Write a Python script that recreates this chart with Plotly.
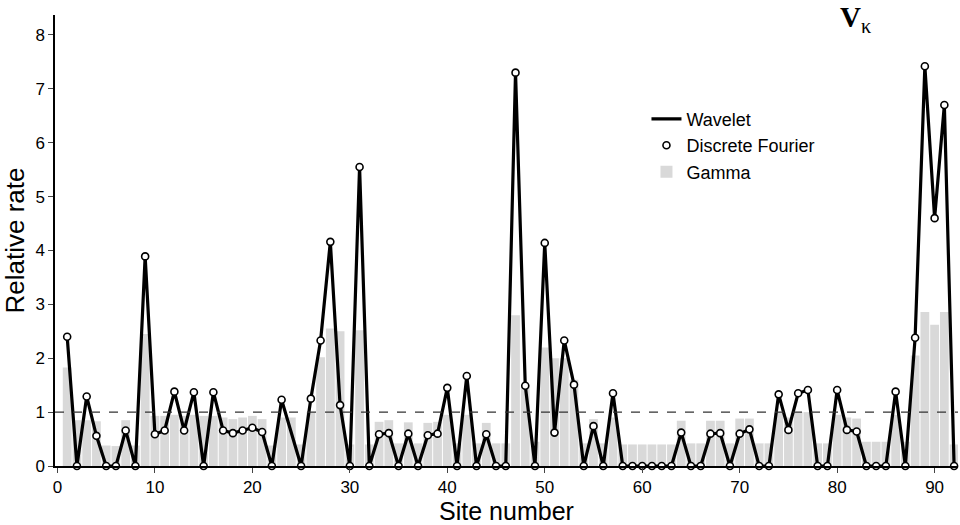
import plotly.graph_objects as go

# ---- data ----
sites = list(range(1, 24)) + list(range(25, 93))
wavelet_rate = [2.40, 0, 1.29, 0.56, 0, 0, 0.66, 0, 3.89, 0.59,
                0.66, 1.38, 0.66, 1.37, 0, 1.37, 0.66, 0.61, 0.66, 0.71,
                0.63, 0, 1.23,
                0, 1.25, 2.33, 4.16, 1.13, 0, 5.55, 0, 0.59, 0.61,
                0, 0.60, 0, 0.57, 0.60, 1.45, 0, 1.67, 0, 0.59,
                0, 0, 7.30, 1.49, 0, 4.14, 0.62, 2.33, 1.51, 0,
                0.74, 0, 1.35, 0, 0, 0, 0, 0, 0, 0.62,
                0, 0, 0.60, 0.61, 0, 0.60, 0.68, 0, 0, 1.33,
                0.67, 1.35, 1.41, 0, 0, 1.41, 0.67, 0.64, 0, 0,
                0, 1.38, 0, 2.38, 7.42, 4.60, 6.70, 0]
fourier_rate = [2.40, 0, 1.29, 0.56, 0, 0, 0.66, 0, 3.89, 0.59,
                0.66, 1.38, 0.66, 1.37, 0, 1.37, 0.66, 0.61, 0.66, 0.71,
                0.63, 0, 1.23,
                0, 1.25, 2.33, 4.16, 1.13, 0, 5.55, 0, 0.59, 0.61,
                0, 0.60, 0, 0.57, 0.60, 1.45, 0, 1.67, 0, 0.59,
                0, 0, 7.30, 1.49, 0, 4.14, 0.62, 2.33, 1.51, 0,
                0.74, 0, 1.35, 0, 0, 0, 0, 0, 0, 0.62,
                0, 0, 0.60, 0.61, 0, 0.60, 0.68, 0, 0, 1.33,
                0.67, 1.35, 1.41, 0, 0, 1.41, 0.67, 0.64, 0, 0,
                0, 1.38, 0, 2.38, 7.42, 4.60, 6.70, 0]
gamma_sites = list(range(1, 93))
gamma_rate = [1.83, 0.85, 0.85, 0.83, 0.38, 0.37, 0.85, 0.38, 2.45, 0.93,
              0.93, 0.95, 0.93, 0.95, 0.93, 0.93, 0.90, 0.87, 0.90, 0.93,
              0.87, 0.38, 0.90, 0.90, 0.40, 1.00, 2.02, 2.55, 2.50, 0.40,
              2.52, 0.40, 0.82, 0.85, 0.42, 0.81, 0.42, 0.80, 0.82, 0.95,
              0.42, 0.95, 0.42, 0.80, 0.42, 0.42, 2.80, 1.50, 0.45, 2.20,
              2.00, 2.00, 1.60, 0.42, 0.87, 0.42, 0.90, 0.40, 0.40, 0.40,
              0.40, 0.40, 0.40, 0.84, 0.42, 0.42, 0.84, 0.84, 0.42, 0.88,
              0.88, 0.42, 0.42, 1.00, 0.90, 1.00, 1.00, 0.42, 0.42, 0.95,
              0.90, 0.88, 0.45, 0.45, 0.45, 0.95, 0.45, 2.05, 2.86, 2.62,
              2.86, 0.40]
x_ticks = [0, 10, 20, 30, 40, 50, 60, 70, 80, 90]
y_ticks = [0, 1, 2, 3, 4, 5, 6, 7, 8]
reference_rate = 1

FONT = "Liberation Sans, Arial, sans-serif"

fig = go.Figure()
fig.add_trace(go.Bar(x=gamma_sites, y=gamma_rate, name="Gamma",
                     marker=dict(color="#d9d9d9", line=dict(width=0)),
                     legendrank=3))
fig.add_trace(go.Scatter(x=sites, y=wavelet_rate, mode="lines", name="Wavelet",
                         line=dict(color="black", width=3.2),
                         cliponaxis=False, legendrank=1))
fig.add_trace(go.Scatter(x=sites, y=fourier_rate, mode="markers",
                         name="Discrete Fourier",
                         marker=dict(symbol="circle", size=7, color="white",
                                     line=dict(color="black", width=1.6)),
                         cliponaxis=False, legendrank=2))

fig.add_shape(type="line", xref="x", yref="y", x0=-0.25, x1=92.4,
              y0=reference_rate, y1=reference_rate,
              line=dict(color="#333333", width=1.1, dash="dash"), layer="above")

fig.add_annotation(text="<b>V</b><sub>κ</sub>", xref="paper", yref="paper",
                   x=0.886, y=1.035, xanchor="center", yanchor="top",
                   showarrow=False,
                   font=dict(family="Liberation Serif, Times New Roman, serif",
                             size=29, color="black"))

fig.update_layout(
    width=960, height=525,
    margin=dict(l=55, r=2, t=15, b=59),
    paper_bgcolor="white", plot_bgcolor="white",
    bargap=0.1,
    font=dict(family=FONT, size=17, color="black"),
    legend=dict(x=0.655, y=0.81, xanchor="left", yanchor="top",
                bgcolor="rgba(0,0,0,0)", font=dict(size=18),
                tracegroupgap=0, itemwidth=30),
    showlegend=True,
)
fig.update_xaxes(range=[-0.25, 92.4], tickvals=x_ticks, ticks="outside",
                 ticklen=5, tickwidth=1.2, showline=True, linecolor="black",
                 linewidth=1.5, showgrid=False, zeroline=False,
                 title=dict(text="Site number", font=dict(size=25), standoff=4))
fig.update_yaxes(range=[0, 8.37], tickvals=y_ticks, ticks="outside",
                 ticklen=5, tickwidth=1.2, showline=True, linecolor="black",
                 linewidth=1.5, showgrid=False, zeroline=False,
                 title=dict(text="Relative rate", font=dict(size=26), standoff=3))

fig.write_html("out.html")
